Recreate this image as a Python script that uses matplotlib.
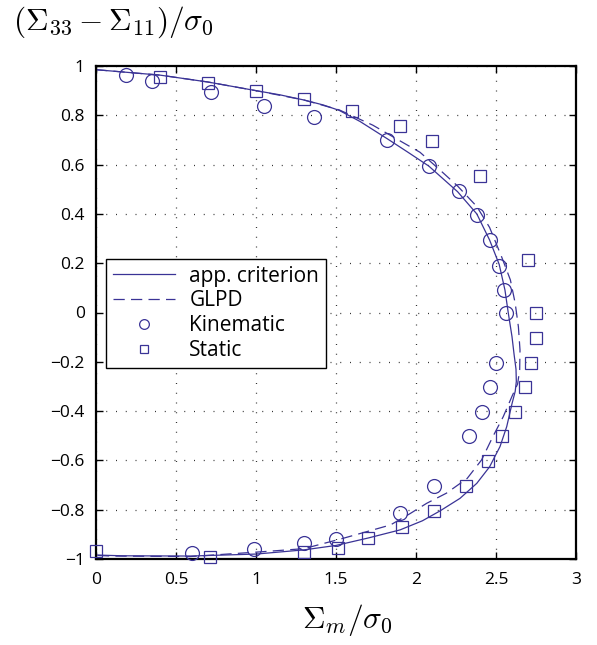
import matplotlib
matplotlib.use("Agg")
import matplotlib.pyplot as plt
from matplotlib.ticker import FuncFormatter

plt.rcParams['font.family'] = ['Open Sans', 'DejaVu Sans']
plt.rcParams['mathtext.fontset'] = 'cm'

# --- data ---
crit_x = [0.0, 0.4, 0.7, 1.0, 1.15, 1.3, 1.42, 1.52, 1.65, 1.82, 1.95, 2.08, 2.26, 2.38,
          2.46, 2.52, 2.556, 2.577, 2.60, 2.613, 2.625, 2.627, 2.62, 2.60, 2.567, 2.525,
          2.46, 2.38, 2.275, 2.15, 2.04, 1.9, 1.70, 1.50, 1.30, 1.0, 0.59, 0.17, 0.0]
crit_y = [0.985, 0.963, 0.935, 0.90, 0.883, 0.862, 0.842, 0.82, 0.775, 0.705, 0.65, 0.594,
          0.49, 0.40, 0.294, 0.195, 0.091, -0.003, -0.098, -0.17, -0.23, -0.28, -0.32,
          -0.37, -0.463, -0.544, -0.626, -0.693, -0.754, -0.805, -0.845, -0.882, -0.915,
          -0.945, -0.963, -0.98, -0.988, -0.987, -0.984]

glpd_x = [0.0, 0.4, 0.7, 1.0, 1.3, 1.52, 1.73, 1.89, 2.025, 2.15, 2.26, 2.38, 2.46, 2.535,
          2.59, 2.62, 2.64, 2.65, 2.648, 2.635, 2.60, 2.545, 2.48, 2.41, 2.32, 2.19, 2.067,
          1.96, 1.84, 1.545, 1.30, 1.05, 0.59, 0.09, 0.0]
glpd_y = [0.985, 0.963, 0.935, 0.90, 0.862, 0.822, 0.76, 0.70, 0.65, 0.578, 0.513, 0.43,
          0.345, 0.226, 0.132, 0.037, -0.058, -0.152, -0.233, -0.29, -0.34, -0.423, -0.504,
          -0.598, -0.673, -0.733, -0.774, -0.817, -0.862, -0.916, -0.958, -0.97, -0.99,
          -0.988, -0.985]

kin_x = [0.19, 0.35, 0.72, 1.05, 1.36, 1.82, 2.08, 2.27, 2.38, 2.46, 2.52, 2.55, 2.56,
         2.50, 2.46, 2.41, 2.33, 2.11, 1.90, 1.50, 1.30, 0.99, 0.60]
kin_y = [0.963, 0.94, 0.895, 0.838, 0.793, 0.70, 0.594, 0.493, 0.396, 0.294, 0.19, 0.091,
         -0.002, -0.206, -0.303, -0.402, -0.50, -0.704, -0.812, -0.917, -0.937, -0.959, -0.976]

sta_x = [0.40, 0.70, 1.00, 1.30, 1.60, 1.90, 2.10, 2.40, 2.70, 2.75, 2.75, 2.72, 2.68,
         2.62, 2.54, 2.45, 2.31, 2.11, 1.91, 1.70, 1.51, 1.30, 0.71, 0.0]
sta_y = [0.954, 0.93, 0.90, 0.865, 0.817, 0.757, 0.696, 0.554, 0.213, -0.001, -0.103,
         -0.206, -0.303, -0.405, -0.50, -0.602, -0.704, -0.805, -0.869, -0.916, -0.955,
         -0.973, -0.99, -0.966]

x_ticks = [0, 0.5, 1, 1.5, 2, 2.5, 3]
y_ticks = [-1, -0.8, -0.6, -0.4, -0.2, 0, 0.2, 0.4, 0.6, 0.8, 1]

col = '#3a3396'

fig = plt.figure(figsize=(5.97, 6.45), dpi=100)
ax = fig.add_axes([96/597, 1-559/645, 480/597, 493/645])

ax.plot(crit_x, crit_y, '-', color=col, lw=0.9, label='app. criterion')
ax.plot(glpd_x, glpd_y, '--', color=col, lw=0.9, dashes=(9, 5), label='GLPD')
ax.plot(kin_x, kin_y, 'o', ls='none', mfc='none', mec=col, mew=0.9, ms=10,
        label='Kinematic', clip_on=False, zorder=4)
ax.plot(sta_x, sta_y, 's', ls='none', mfc='none', mec=col, mew=0.9, ms=8,
        label='Static', clip_on=False, zorder=4)

ax.set_xlim(0, 3)
ax.set_ylim(-1, 1)
ax.set_xticks(x_ticks)
ax.set_yticks(y_ticks)
fmt = FuncFormatter(lambda v, p: ('%g' % round(v, 2)).replace('-', '\u2212'))
ax.xaxis.set_major_formatter(fmt)
ax.yaxis.set_major_formatter(fmt)
ax.tick_params(direction='in', length=5, width=1, top=True, right=True,
               labelsize=12.5, colors='black')
ax.tick_params(axis='x', pad=9)
ax.tick_params(axis='y', pad=8)
for s in ax.spines.values():
    s.set_linewidth(1.6)
ax.grid(True, color='0.2', lw=0.9, linestyle=(0, (0.8, 7)))
ax.set_axisbelow(True)

leg = ax.legend(loc='upper left', bbox_to_anchor=(0.021, 0.6085), borderaxespad=0,
                fontsize=15, handlelength=3.0, handletextpad=0.68, labelspacing=0.18,
                markerscale=0.7, fancybox=False, framealpha=1, edgecolor='black',
                borderpad=0.32)
leg.get_frame().set_linewidth(1.0)

fig.text(13/597, 1-4/645, r'$(\Sigma_{33}-\Sigma_{11})/\sigma_0$', fontsize=22.5,
         ha='left', va='top')
fig.text(347/597, 1-620/645, r'$\Sigma_m/\sigma_0$', fontsize=22.5, ha='center', va='center')

fig.savefig('out.png', dpi=100)
